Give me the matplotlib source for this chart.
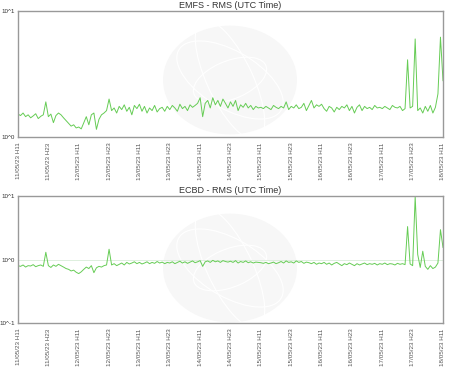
import matplotlib

matplotlib.use("Agg")
import matplotlib.dates as mdates
import matplotlib.pyplot as plt
import numpy as np
from matplotlib.patches import Circle, Ellipse

plt.rcParams["font.family"] = ["Liberation Sans", "DejaVu Sans"]

START = np.datetime64("2023-05-11T11:00")

# Hourly RMS values, one row per 12 hours (tick spacing).
emfs_rms = [
    1.52, 1.48, 1.55, 1.45, 1.50, 1.42, 1.47, 1.53, 1.40, 1.46, 1.50, 1.90,
    1.45, 1.52, 1.30, 1.48, 1.55, 1.50, 1.42, 1.35, 1.28, 1.22, 1.25, 1.18,
    1.20, 1.16, 1.30, 1.45, 1.25, 1.50, 1.55, 1.15, 1.38, 1.50, 1.55, 1.62,
    2.00, 1.62, 1.70, 1.55, 1.75, 1.65, 1.80, 1.60, 1.72, 1.50, 1.78, 1.68,
    1.82, 1.60, 1.75, 1.55, 1.70, 1.62, 1.78, 1.58, 1.68, 1.72, 1.60, 1.75,
    1.65, 1.78, 1.70, 1.60, 1.82, 1.68, 1.75, 1.62, 1.80, 1.72, 1.78, 1.85,
    2.05, 1.45, 1.85, 1.95, 1.70, 2.05, 1.80, 1.95, 1.75, 2.00, 1.85, 1.70,
    1.90, 1.75, 1.95, 1.62, 1.80, 1.72, 1.85, 1.70, 1.78, 1.65, 1.75, 1.70,
    1.72, 1.68, 1.75, 1.70, 1.65, 1.78, 1.72, 1.68, 1.75, 1.70, 1.90, 1.65,
    1.75, 1.70, 1.80, 1.68, 1.72, 1.85, 1.62, 1.78, 1.95, 1.70, 1.80, 1.75,
    1.82, 1.68, 1.60, 1.75, 1.70, 1.58, 1.72, 1.65, 1.75, 1.70, 1.80, 1.62,
    1.75, 1.55, 1.72, 1.80, 1.62, 1.75, 1.68, 1.72, 1.65, 1.78, 1.70, 1.72,
    1.68, 1.75, 1.70, 1.65, 1.78, 1.72, 1.70, 1.75, 1.62, 1.68, 4.10, 1.70,
    1.75, 6.00, 1.62, 1.70, 1.55, 1.75, 1.60, 1.78, 1.55, 1.72, 2.20, 6.20,
    2.80,
]

ecbd_rms = [
    0.80, 0.78, 0.82, 0.76, 0.80, 0.79, 0.83, 0.77, 0.80, 0.82, 0.78, 1.30,
    0.80, 0.75, 0.82, 0.78, 0.84, 0.80, 0.76, 0.72, 0.70, 0.66, 0.68, 0.63,
    0.60, 0.64, 0.70, 0.76, 0.72, 0.80, 0.62, 0.74, 0.78, 0.76, 0.80, 0.82,
    1.45, 0.82, 0.86, 0.80, 0.84, 0.88, 0.82, 0.90, 0.85, 0.88, 0.92, 0.86,
    0.90, 0.85, 0.88, 0.92, 0.86, 0.90, 0.87, 0.93, 0.88, 0.91, 0.86, 0.90,
    0.88, 0.92, 0.86, 0.90, 0.94, 0.88, 0.92, 0.87, 0.91, 0.95, 0.89, 0.92,
    0.96, 0.78, 0.92, 0.95, 0.90, 0.97, 0.92, 0.95, 0.90, 0.96, 0.93, 0.91,
    0.94, 0.90, 0.96, 0.88, 0.93, 0.90, 0.95, 0.89, 0.92, 0.88, 0.91, 0.90,
    0.89, 0.87, 0.90, 0.86, 0.88, 0.91, 0.86, 0.89, 0.93, 0.88, 0.95, 0.90,
    0.92, 0.88, 0.95, 0.90, 0.93, 0.87, 0.91, 0.89, 0.86, 0.90, 0.84, 0.88,
    0.86, 0.90, 0.84, 0.88, 0.82, 0.87, 0.90, 0.85, 0.80, 0.86, 0.83, 0.88,
    0.84, 0.80, 0.86, 0.82, 0.85, 0.88, 0.83, 0.86, 0.84, 0.87, 0.82, 0.86,
    0.84, 0.88, 0.83, 0.86, 0.85, 0.82, 0.87, 0.84, 0.86, 0.83, 3.30, 0.85,
    0.80, 9.80, 1.20, 0.75, 1.35, 0.78, 0.70, 0.80, 0.72, 0.76, 0.88, 2.95,
    1.55,
]

panels = [
    ("EMFS - RMS (UTC Time)", emfs_rms, [1, 10], ["10^0", "10^1"]),
    ("ECBD - RMS (UTC Time)", ecbd_rms, [0.1, 1, 10], ["10^-1", "10^0", "10^1"]),
]

W, H = 457, 371
fig = plt.figure(figsize=(W / 100, H / 100), dpi=100)

# axes boxes in pixels: left, top, right, bottom
boxes = [(18, 11, 443, 137), (18, 196, 443, 323)]

# faint globe watermarks behind each panel
for cx, cy in [(230, 80), (230, 268)]:
    r = 67
    fig.patches.append(Circle((cx / W, 1 - cy / H), r / W, transform=fig.transFigure,
                              facecolor="#f7f7f7", edgecolor="none", zorder=0))
    for w, h, ang in [(1.2, 0.55, 30), (0.7, 1.9, 20), (1.9, 0.8, -40)]:
        fig.patches.append(Ellipse((cx / W, 1 - cy / H), w * r / W, h * r / H,
                                   angle=ang, transform=fig.transFigure,
                                   facecolor="none", edgecolor="#ffffff",
                                   linewidth=0.8, zorder=0))

times = START + np.arange(len(emfs_rms)) * np.timedelta64(1, "h")
ticks = START + np.arange(0, 169, 12) * np.timedelta64(1, "h")

for (title, values, yticks, ylabels), (l, t, r, b) in zip(panels, boxes):
    ax = fig.add_axes([l / W, 1 - b / H, (r - l) / W, (b - t) / H])
    ax.set_zorder(2)
    ax.set_facecolor("none")
    ax.plot(times, values, color="#66cc55", linewidth=0.7)
    ax.set_yscale("log")
    ax.set_ylim(yticks[0], yticks[-1])
    ax.set_yticks(yticks)
    ax.set_yticklabels(ylabels)
    ax.yaxis.set_minor_locator(matplotlib.ticker.NullLocator())
    ax.grid(axis="y", color="#d8ecd8", linewidth=0.6)
    ax.set_xlim(times[0], times[-1])
    ax.set_xticks(ticks)
    ax.xaxis.set_major_formatter(mdates.DateFormatter("%d/%m/%y H%H"))
    ax.tick_params(axis="x", labelrotation=90, labelsize=4.5, length=0, pad=4,
                   colors="#555555")
    ax.tick_params(axis="y", labelsize=4.5, length=0, pad=2, colors="#333333")
    for s in ax.spines.values():
        s.set_color("#999999")
        s.set_linewidth(1.0)
    ax.set_title(title, fontsize=6.5, color="#333333", pad=2)

fig.savefig("out.png", dpi=100)
